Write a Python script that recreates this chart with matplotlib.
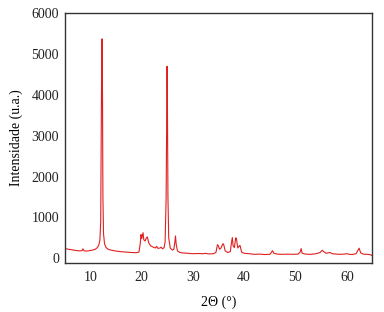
import matplotlib
matplotlib.use("Agg")
import matplotlib.pyplot as plt

two_theta = [5.0, 5.5, 6.0, 6.5, 7.0, 7.5, 8.0, 8.4, 8.6, 8.8, 9.2, 9.6, 10.0, 10.5, 11.0, 11.4, 11.7, 11.9,
             12.05, 12.15, 12.25, 12.32, 12.40, 12.48, 12.6, 12.8, 13.1, 13.5, 14, 15, 16, 17, 18, 19, 19.5,
             19.75, 19.9, 20.05, 20.2, 20.3, 20.45, 20.7, 20.95, 21.15, 21.4, 21.8, 22.3, 22.7, 22.95, 23.2,
             23.6, 23.8, 24.1, 24.4, 24.6, 24.8, 24.92, 24.98, 25.05, 25.15, 25.3, 25.6, 26.0, 26.3, 26.5,
             26.62, 26.75, 27.0, 27.5, 28, 29, 30, 31, 32, 32.5, 33, 34, 34.5, 34.8, 34.95, 35.2, 35.5,
             35.85, 36.0, 36.3, 36.8, 37.3, 37.55, 37.7, 37.85, 38.1, 38.35, 38.5, 38.75, 39.05, 39.2, 39.5,
             40, 41, 42, 43, 44, 45, 45.3, 45.5, 45.8, 46.5, 47.5, 48.5, 49.5, 50.5, 50.9, 51.1, 51.3, 52,
             53, 54, 54.8, 55.2, 55.6, 56, 56.7, 57.2, 58, 59, 60, 60.5, 61, 61.8, 62.2, 62.4, 62.7, 63.2,
             64, 64.5, 65]
intensity = [240, 225, 215, 205, 195, 185, 180, 185, 230, 180, 175, 180, 190, 200, 220, 260, 330, 450,
             900, 3000, 5000, 5370, 4000, 1500, 600, 350, 260, 220, 200, 175, 160, 150, 140, 135, 150,
             350, 580, 480, 560, 625, 450, 420, 500, 520, 380, 300, 270, 250, 290, 240,
             250, 270, 230, 260, 400, 1500, 3500, 4700, 3800, 1500, 500, 250, 200, 220, 400,
             545, 350, 180, 140, 130, 120, 110, 115, 110, 120, 105, 110, 140, 330, 310, 220, 250,
             355, 340, 180, 140, 160, 400, 505, 300, 260, 500, 480, 250, 300, 310, 150,
             120, 110, 95, 100, 90, 95, 140, 185, 120, 100, 95, 100, 95, 100, 150, 235, 120, 100,
             95, 110, 140, 195, 150, 120, 140, 110, 100, 95, 110, 95, 90, 110, 200, 245, 130, 100,
             95, 90, 60]

xticks = [10, 20, 30, 40, 50, 60]
yticks = [0, 1000, 2000, 3000, 4000, 5000, 6000]

plt.rcParams['font.family'] = ['Liberation Serif', 'DejaVu Serif']
fig = plt.figure(figsize=(3.84, 3.12), dpi=100)
ax = fig.add_axes([0.168, 0.158, 0.802, 0.800])
ax.plot(two_theta, intensity, color='#e02020', lw=0.8)
ax.set_xlim(5, 65)
ax.set_ylim(-110, 6000)
ax.set_xticks(xticks)
ax.set_yticks(yticks)
ax.tick_params(length=0, labelsize=10, colors='#222222')
ax.tick_params(axis='y', pad=4)
ax.tick_params(axis='x', pad=6)
for s in ax.spines.values():
    s.set_color('#333333')
    s.set_linewidth(1.0)
ax.set_xlabel('2Θ (°)', fontsize=10, labelpad=8)
ax.set_ylabel('Intensidade (u.a.)', fontsize=10, labelpad=6)
fig.savefig('out.png', dpi=100)
